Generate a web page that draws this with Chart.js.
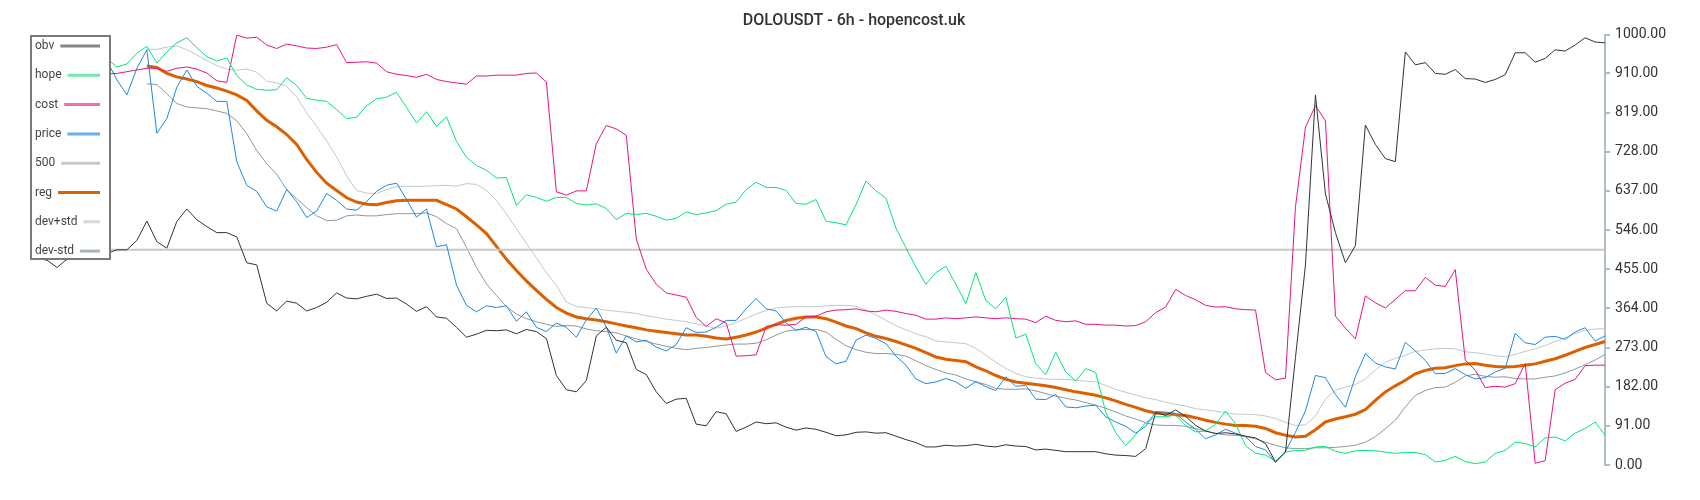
<!DOCTYPE html>
<html>
<head>
<meta charset="utf-8">
<title>DOLOUSDT - 6h - hopencost.uk</title>
<script src="https://cdn.jsdelivr.net/npm/chart.js@4.4.1/dist/chart.umd.min.js"></script>
<style>
  html, body { margin: 0; padding: 0; background: #fff; }
  #wrap { width: 1700px; height: 500px; }
</style>
</head>
<body>
<div id="wrap"><canvas id="myChart" width="1700" height="500"></canvas></div>
<script>
// series values, one per 6h candle
const obv = [
  480, 476, 459, 478, 488, 484, 494, 492, 500, 500,
  522, 567, 519, 504, 566, 595, 570, 554, 540, 540,
  530, 470, 465, 376, 358, 381, 376, 358, 366, 378,
  400, 388, 386, 392, 397, 387, 388, 374, 357, 368,
  344, 341, 320, 297, 304, 313, 312, 314, 305, 315,
  310, 294, 208, 175, 170, 196, 300, 320, 290, 284,
  222, 210, 170, 143, 153, 155, 95, 91, 124, 119,
  78, 88, 100, 96, 98, 88, 81, 86, 83, 76,
  68, 70, 76, 77, 74, 75, 67, 59, 52, 42,
  42, 46, 44, 45, 48, 44, 42, 47, 44, 43,
  35, 37, 34, 31, 31, 31, 31, 26, 23, 22,
  20, 38, 122, 115, 128, 113, 92, 79, 73, 75,
  72, 67, 63, 50, 7, 30, 250, 465, 860, 630,
  540, 470, 510, 790, 745, 712, 705, 960, 930, 935,
  910, 908, 919, 898, 897, 889, 896, 907, 958, 958,
  936, 945, 965, 962, 976, 993, 983, 981
];
const hope = [
  905, 915, 925, 930, 935, 928, 938, 945, 925, 932,
  957, 973, 934, 960, 981, 993, 970, 949, 939, 946,
  905, 883, 873, 871, 872, 900, 882, 852, 848, 845,
  826, 805, 808, 835, 851, 855, 866, 831, 795, 821,
  787, 809, 752, 715, 696, 685, 667, 668, 603, 628,
  622, 613, 622, 622, 608, 604, 607, 596, 570, 585,
  582, 585, 578, 569, 573, 588, 582, 586, 591, 606,
  611, 640, 657, 645, 645, 638, 608, 606, 617, 566,
  563, 558, 605, 660, 637, 620, 550, 505, 460, 420,
  447, 462, 420, 375, 447, 382, 363, 390, 295, 304,
  235, 210, 262, 216, 195, 224, 215, 123, 75, 45,
  70, 99, 112, 112, 116, 92, 77, 79, 95, 125,
  96, 45, 27, 23, 9, 30, 34, 34, 42, 43,
  32, 27, 33, 34, 33, 30, 27, 29, 29, 24,
  7, 11, 20, 8, 3, 7, 27, 34, 53, 50,
  42, 63, 65, 56, 74, 85, 100, 69
];
const cost = [
  900, 903, 905, 902, 906, 908, 905, 909, 910, 914,
  918, 922, 922, 915, 922, 925, 920, 911, 893, 889,
  999, 992, 994, 976, 968, 978, 974, 969, 968, 971,
  977, 935, 936, 937, 934, 914, 908, 905, 901, 908,
  896, 891, 888, 885, 904, 904, 906, 906, 906, 910,
  911, 890, 635, 627, 637, 637, 747, 789, 781, 766,
  525, 455, 420, 400, 395, 390, 343, 322, 340, 330,
  253, 254, 256, 322, 326, 325, 327, 344, 346, 356,
  360, 361, 363, 358, 356, 360, 357, 352, 348, 339,
  339, 342, 340, 342, 344, 342, 340, 342, 340, 339,
  331, 346, 336, 333, 335, 327, 327, 325, 325, 323,
  324, 333, 354, 367, 408, 394, 384, 371, 367, 368,
  363, 361, 360, 215, 198, 202, 600, 785, 835, 800,
  346, 318, 293, 393, 377, 365, 385, 405, 405, 436,
  418, 415, 454, 244, 220, 180, 183, 181, 189, 236,
  4, 10, 175, 190, 199, 231, 232, 232
];
const price = [
  905, 912, 898, 920, 908, 925, 918, 940, 895, 860,
  922, 965, 771, 805, 878, 918, 880, 864, 845, 845,
  705, 650, 636, 600, 590, 640, 612, 575, 590, 631,
  615, 595, 592, 612, 636, 650, 655, 617, 576, 595,
  507, 512, 418, 371, 356, 370, 366, 370, 334, 356,
  320, 310, 330, 320, 297, 337, 365, 321, 260, 300,
  286, 290, 274, 265, 280, 319, 308, 309, 320, 336,
  336, 363, 387, 363, 358, 330, 313, 320, 310, 252,
  235, 241, 290, 302, 294, 282, 253, 232, 200, 189,
  193, 201, 193, 178, 194, 182, 173, 205, 183, 185,
  153, 152, 164, 135, 133, 137, 139, 112, 100, 90,
  74, 90, 124, 123, 120, 100, 83, 61, 70, 83,
  74, 66, 43, 35, 6, 32, 76, 126, 208, 203,
  164, 134, 205, 259, 237, 228, 223, 285, 265, 243,
  212, 213, 224, 210, 200, 203, 216, 225, 306, 284,
  280, 297, 299, 292, 309, 319, 288, 300
];
const reg = [
  null, null, null, null, null, null, null, null, null, null,
  null, 927, 924, 910, 902, 897, 891, 882, 876, 869,
  860, 847, 823, 801, 786, 768, 745, 710, 680, 655,
  638, 621, 611, 606, 605, 610, 614, 615, 615, 615,
  615, 605, 595, 577, 558, 538, 508, 478, 452, 428,
  406, 385, 366, 353, 344, 340, 337, 333, 328, 323,
  319, 314, 311, 308, 305, 302, 302, 299, 295, 293,
  297, 302, 309, 318, 327, 336, 341, 344, 344, 340,
  332, 323, 317, 307, 299, 294, 287, 279, 271, 261,
  251, 246, 243, 240, 228, 219, 208, 199, 193, 190,
  187, 184, 180, 175, 170, 166, 162, 156, 149, 141,
  134, 126, 121, 119, 117, 115, 110, 104, 99, 95,
  92, 92, 90, 85, 75, 69, 65, 67, 82, 100,
  107, 112, 118, 129, 150, 170, 184, 197, 212, 220,
  225, 226, 231, 235, 236, 232, 229, 228, 229, 232,
  235, 241, 247, 255, 264, 273, 280, 287
];
const devPlus = [
  null, null, null, null, null, null, null, null, null, null,
  null, 966, 966, 971, 974, 965, 953, 940, 928, 920,
  918, 920, 913, 892, 888, 880, 855, 818, 787, 753,
  716, 672, 638, 632, 631, 640, 647, 648, 647, 648,
  649, 650, 648, 654, 652, 638, 615, 583, 549, 515,
  482, 447, 418, 379, 368, 366, 363, 360, 357, 355,
  352, 347, 343, 339, 336, 333, 328, 323, 318, 323,
  331, 341, 351, 359, 365, 367, 368, 368, 368, 370,
  371, 371, 369, 360, 349, 336, 324, 314, 305, 298,
  288, 286, 284, 282, 271, 255, 239, 224, 213, 205,
  202, 200, 199, 199, 197, 195, 193, 185, 176, 169,
  163, 156, 152, 146, 141, 137, 131, 128, 125, 122,
  118, 118, 117, 114, 108, 99, 92, 93, 114, 153,
  174, 181, 187, 200, 221, 239, 248, 255, 264, 267,
  270, 271, 270, 263, 261, 258, 254, 251, 257, 264,
  270, 278, 287, 296, 305, 313, 316, 317
];
const devMinus = [
  null, null, null, null, null, null, null, null, null, null,
  null, 886, 884, 863, 840, 832, 830, 828, 823, 817,
  800, 770, 731, 700, 676, 640, 619, 598, 579, 568,
  569, 579, 581, 579, 579, 582, 584, 584, 584, 586,
  577, 561, 549, 506, 459, 421, 394, 368, 351, 340,
  333, 327, 322, 324, 323, 316, 312, 310, 307, 300,
  293, 287, 281, 276, 271, 268, 271, 273, 276, 279,
  281, 281, 283, 291, 302, 311, 314, 315, 315, 309,
  292, 277, 268, 262, 259, 259, 257, 253, 242, 231,
  222, 214, 209, 200, 193, 187, 178, 176, 176, 177,
  172, 166, 160, 155, 151, 145, 139, 132, 123, 114,
  107, 98, 93, 92, 92, 90, 85, 79, 74, 70,
  69, 66, 61, 53, 46, 40, 38, 38, 40, 40,
  41, 43, 46, 53, 66, 84, 104, 135, 162, 173,
  180, 181, 192, 207, 211, 206, 204, 205, 201, 200,
  200, 204, 207, 214, 223, 233, 244, 257
];
const level = 500;

// right axis tick labels
const yTicks = [0, 91, 182, 273, 364, 455, 546, 637, 728, 819, 910, 1000];

// candle index is the category
const labels = obv.map((v, i) => i);

const seriesNames = ['obv', 'hope', 'cost', 'price', '500', 'reg', 'dev+std', 'dev-std'];
const lineColors = ['#333333', '#00e676', '#e6157f', '#1e88e5', '#c8c8c8', '#dd6000', '#c2c7cc', '#8d979e'];
const legendColors = ['#858585', '#72eaa8', '#ef6eac', '#6aaeea', '#c8c8c8', '#d86200', '#d3d9dd', '#a9b3b9'];

// legend drawn on top of the lines, top left
const legendBox = {
  id: 'legendBox',
  afterDraw(chart) {
    const ctx = chart.ctx;
    ctx.save();
    ctx.fillStyle = '#fff';
    ctx.fillRect(31, 36, 79, 223);
    ctx.strokeStyle = '#7a7a7a';
    ctx.lineWidth = 2;
    ctx.strokeRect(31, 36, 79, 223);
    ctx.font = '12px Roboto';
    ctx.textBaseline = 'middle';
    seriesNames.forEach(function (name, k) {
      const y = 46 + k * 29.3;
      ctx.fillStyle = '#444';
      ctx.fillText(name, 35, y);
      const w = ctx.measureText(name).width;
      ctx.strokeStyle = legendColors[k];
      ctx.lineWidth = 3;
      ctx.beginPath();
      ctx.moveTo(35 + w + 6, y);
      ctx.lineTo(100, y);
      ctx.stroke();
    });
    ctx.restore();
  }
};

function lineSet(name, data, k, width) {
  return {
    label: name,
    data: data,
    borderColor: lineColors[k],
    borderWidth: width,
    pointRadius: 0,
    tension: 0,
    fill: false
  };
}

const ctx = document.getElementById('myChart').getContext('2d');
const myChart = new Chart(ctx, {
  type: 'line',
  data: {
    labels: labels,
    datasets: [
      lineSet('obv', obv, 0, 1),
      lineSet('hope', hope, 1, 1),
      lineSet('cost', cost, 2, 1),
      lineSet('price', price, 3, 1),
      lineSet('500', labels.map(() => level), 4, 2),
      lineSet('reg', reg, 5, 3),
      lineSet('dev+std', devPlus, 6, 1),
      lineSet('dev-std', devMinus, 7, 1)
    ]
  },
  options: {
    responsive: false,
    animation: false,
    events: [],
    layout: {
      padding: { left: 37, right: 29, top: 0, bottom: 35 }
    },
    plugins: {
      legend: { display: false },
      tooltip: { enabled: false },
      title: {
        display: true,
        text: 'DOLOUSDT - 6h - hopencost.uk',
        color: '#333',
        font: { family: 'Roboto', size: 16, weight: '500' },
        padding: { top: 11, bottom: 4.5 }
      }
    },
    scales: {
      x: { display: false },
      y: {
        position: 'right',
        min: 0,
        max: 1000,
        afterBuildTicks: function (scale) {
          scale.ticks = yTicks.map(v => ({ value: v }));
        },
        grid: {
          drawOnChartArea: false,
          drawTicks: true,
          tickLength: 5,
          color: '#b0bec5',
          lineWidth: 2
        },
        border: { display: true, color: '#b0bec5', width: 2 },
        ticks: {
          padding: 5,
          color: '#333',
          font: { family: 'Roboto', size: 14 },
          callback: function (value) {
            return Number(value).toFixed(2);
          }
        }
      }
    }
  },
  plugins: [legendBox]
});
</script>
</body>
</html>
